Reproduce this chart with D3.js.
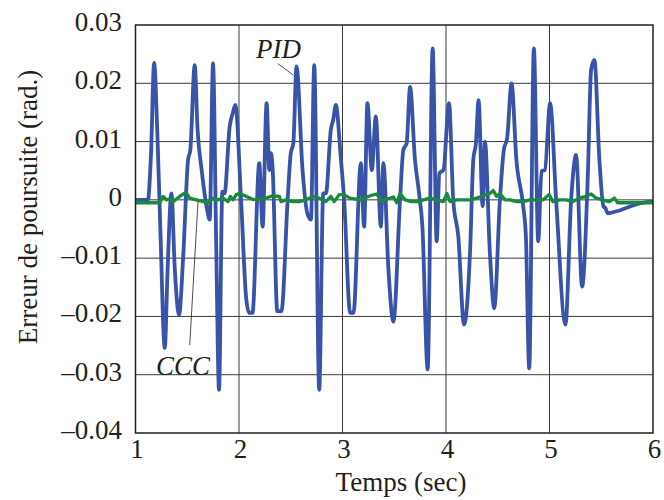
<!DOCTYPE html>
<html>
<head>
<meta charset="utf-8">
<script src="https://cdn.jsdelivr.net/npm/d3@7"></script>
<style>
  html, body { margin: 0; padding: 0; background: #fff; }
  svg { display: block; }
  text { font-family: "Liberation Serif", "Times New Roman", serif; fill: #231f20; }
</style>
</head>
<body>
<svg id="chart" width="664" height="500"></svg>
<script>
// ---- data ----
const xTicks = [1, 2, 3, 4, 5, 6];
const xTickLabels = ["1", "2", "3", "4", "5", "6"];
const yTicks = [-0.04, -0.03, -0.02, -0.01, 0, 0.01, 0.02, 0.03];
const yTickLabels = ["\u20130.04", "\u20130.03", "\u20130.02", "\u20130.01", "0", "0.01", "0.02", "0.03"];

const pidTime = [1.00, 1.12, 1.15, 1.18, 1.21, 1.24, 1.283, 1.31, 1.347, 1.38, 1.421, 1.46, 1.508, 1.53, 1.572,
  1.60, 1.64, 1.69, 1.717, 1.749, 1.78, 1.807, 1.839, 1.86, 1.91, 1.94, 1.965,
  2.02, 2.07, 2.10, 2.13, 2.196, 2.228, 2.267, 2.293, 2.31, 2.325, 2.37, 2.41, 2.47, 2.50, 2.525, 2.556,
  2.614, 2.66, 2.695, 2.727, 2.775, 2.814, 2.84, 2.887, 2.91, 2.936, 2.98,
  3.016, 3.074, 3.106, 3.177, 3.209, 3.241, 3.283, 3.322, 3.37, 3.395, 3.444, 3.492, 3.556, 3.588, 3.62, 3.653,
  3.70, 3.74, 3.772, 3.823, 3.871, 3.91, 3.936, 3.975,
  4.029, 4.07, 4.119, 4.174, 4.232, 4.264, 4.289, 4.315, 4.354, 4.376, 4.424, 4.466, 4.521, 4.559, 4.591, 4.633,
  4.68, 4.746, 4.772, 4.804, 4.849, 4.891, 4.923, 4.955,
  5.006, 5.064, 5.154, 5.209, 5.257, 5.315, 5.37, 5.402, 5.434, 5.482, 5.521, 5.54, 5.563, 5.64, 5.74, 5.87, 6.0];
const pidValue = [0, 0, 0.008, 0.0235, 0.012, -0.005, -0.0254, -0.012, 0.0011, -0.012, -0.0197, -0.01, 0.0069, 0.0086, 0.0231,
  0.012, 0.005, -0.0015, -0.0034, 0.0234, -0.008, -0.0326, 0.0014, 0.0011, 0.0126, 0.0149, 0.0163,
  0, -0.017, -0.0194, -0.0194, 0.0063, -0.0046, 0.0166, 0.0051, 0.008, 0.0054, -0.0191, -0.0191, 0, 0.008, 0.0097, 0.0229,
  0.0051, -0.0023, -0.0034, 0.0231, -0.0326, 0.0011, 0.0011, 0.012, 0.0137, 0.0163, 0.008,
  0, -0.0194, -0.0194, 0.0063, -0.0046, 0.0166, 0.0051, 0.0143, -0.0046, 0.0063, -0.012, -0.0209, 0, 0.0086, 0.0097, 0.0194,
  0.0069, 0.0011, -0.0046, -0.0291, 0.026, -0.0071, 0.0046, 0.0051,
  0.0166, 0, -0.0063, -0.0214, -0.0091, 0.0069, 0.0097, 0.0171, -0.0011, 0.01, -0.0091, -0.0186, 0, 0.0086, 0.0106, 0.02,
  0.0069, -0.0011, -0.0063, -0.0289, 0.026, -0.0071, 0.0049, 0.0051,
  0.0166, 0, -0.0214, 0, 0.0077, -0.0149, 0.004, 0.0223, 0.024, 0.0069, -0.0011, -0.0014, -0.0023, -0.002, -0.0014, -0.0006, -0.0003];

const cccTime = [1.00, 1.235, 1.267, 1.299, 1.331, 1.363, 1.428, 1.486, 1.524, 1.588, 1.653, 1.701, 1.749, 1.797, 1.846, 1.894, 1.916, 1.942, 1.974,
  2.003, 2.068, 2.132, 2.196, 2.26, 2.325, 2.389, 2.405, 2.453, 2.518, 2.582, 2.646, 2.711, 2.775, 2.839, 2.887, 2.92, 2.968,
  3.01, 3.074, 3.17, 3.267, 3.331, 3.379, 3.428, 3.492, 3.524, 3.556, 3.605, 3.669, 3.733, 3.781, 3.846, 3.91, 3.974,
  4.01, 4.039, 4.103, 4.167, 4.232, 4.296, 4.36, 4.424, 4.457, 4.489, 4.521, 4.569, 4.617, 4.682, 4.746, 4.81, 4.875, 4.939, 4.997,
  5.032, 5.096, 5.161, 5.225, 5.289, 5.354, 5.402, 5.45, 5.514, 5.579, 5.627, 5.659, 5.707, 6.0];
const cccValue = [-0.0005, -0.0005, 0.0006, 0.0, 0.0002, -0.0003, 0.0006, 0.0013, 0.0003, 0.0, -0.0003, -0.0005, 0.0003, 0.0, 0.0003, -0.0003, 0.0006, 0.0, 0.0009,
  0.0011, 0.0006, 0.0001, 0.0, 0.0003, 0.0007, 0.0006, -0.0003, 0.0, -0.0003, -0.0003, 0.0, 0.0006, 0.0003, -0.0003, 0.0006, -0.0003, 0.0009,
  0.0009, 0.0003, 0.0, 0.0007, 0.001, -0.0003, 0.0001, 0.0005, -0.0005, 0.0011, 0.0, -0.0003, -0.0003, 0.0, 0.0003, 0.0, -0.0003,
  0.0011, -0.0003, 0.0, 0.0, 0.0, 0.0003, 0.0007, 0.0011, 0.0016, 0.0006, 0.0011, 0.0, 0.0, -0.0003, -0.0003, 0.0, 0.0, 0.0, 0.0009,
  -0.0003, 0.0, 0.0, -0.0003, 0.0003, 0.0006, 0.001, 0.0003, 0.0, -0.0003, 0.0003, -0.0005, -0.0005, -0.0005];

const annotations = [
  { label: "PID", textT: 2.164, textV: 0.0243, lineFrom: [2.374, 0.0234], lineTo: [2.525, 0.0214] },
  { label: "CCC", textT: 1.198, textV: -0.030, lineFrom: [1.524, -0.0249], lineTo: [1.604, -0.0003] }
];

const xLabel = "Temps (sec)";
const yLabel = "Erreur de poursuite (rad.)";

// ---- drawing ----
const svg = d3.select("#chart");
const x = d3.scaleLinear().domain([1, 6]).range([135.5, 653]);
const y = d3.scaleLinear().domain([-0.04, 0.03]).range([433, 25]);

// grid
const grid = svg.append("g");
grid.selectAll("line.gx").data(xTicks.slice(1, -1)).enter().append("line")
  .attr("x1", d => x(d)).attr("x2", d => x(d))
  .attr("y1", y(-0.04)).attr("y2", y(0.03))
  .attr("stroke", "#3a3a3a").attr("stroke-width", 1);
grid.selectAll("line.gy").data(yTicks.slice(1, -1)).enter().append("line")
  .attr("y1", d => y(d)).attr("y2", d => y(d))
  .attr("x1", x(1)).attr("x2", x(6))
  .attr("stroke", "#3a3a3a").attr("stroke-width", 1);

// lines
const pidData = pidTime.map((t, i) => [t, pidValue[i]]);
const cccData = cccTime.map((t, i) => [t, cccValue[i]]);

svg.append("path").datum(pidData)
  .attr("d", d3.line().x(d => x(d[0])).y(d => y(d[1])).curve(d3.curveMonotoneX))
  .attr("fill", "none").attr("stroke", "#3853a8").attr("stroke-width", 3.8)
  .attr("stroke-linejoin", "round");

svg.append("path").datum(cccData)
  .attr("d", d3.line().x(d => x(d[0])).y(d => y(d[1])))
  .attr("fill", "none").attr("stroke", "#178a3c").attr("stroke-width", 3.3)
  .attr("stroke-linejoin", "round");

// frame
svg.append("rect")
  .attr("x", x(1)).attr("y", y(0.03))
  .attr("width", x(6) - x(1)).attr("height", y(-0.04) - y(0.03))
  .attr("fill", "none").attr("stroke", "#231f20").attr("stroke-width", 1.5);

// axes labels
svg.append("g").selectAll("text").data(xTicks).enter().append("text")
  .attr("x", d => x(d) + 1.5).attr("y", 458)
  .attr("text-anchor", "middle").attr("font-size", 27)
  .text((d, i) => xTickLabels[i]);

svg.append("g").selectAll("text").data(yTicks).enter().append("text")
  .attr("x", 122).attr("y", d => y(d) + 6)
  .attr("text-anchor", "end").attr("font-size", 27)
  .text((d, i) => yTickLabels[i]);

svg.append("text").attr("x", 401).attr("y", 491)
  .attr("text-anchor", "middle").attr("font-size", 27).text(xLabel);

svg.append("text").attr("transform", "translate(37,207) rotate(-90)")
  .attr("text-anchor", "middle").attr("font-size", 27).text(yLabel);

// annotations
annotations.forEach(a => {
  svg.append("line")
    .attr("x1", x(a.lineFrom[0])).attr("y1", y(a.lineFrom[1]))
    .attr("x2", x(a.lineTo[0])).attr("y2", y(a.lineTo[1]))
    .attr("stroke", "#231f20").attr("stroke-width", 0.8);
  svg.append("text").attr("x", x(a.textT)).attr("y", y(a.textV))
    .attr("font-size", 27).attr("font-style", "italic").text(a.label);
});
</script>
</body>
</html>
